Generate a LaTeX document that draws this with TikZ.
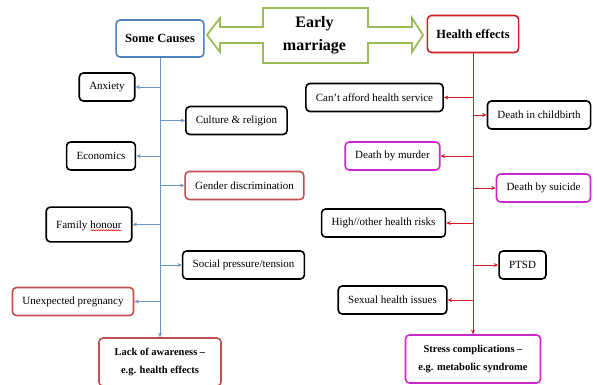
\documentclass[tikz,border=0pt]{standalone}
\usepackage{fontspec}
\setmainfont{Liberation Serif}
\usetikzlibrary{arrows.meta,decorations.pathmorphing}
\definecolor{causeblue}{RGB}{79,129,189}
\definecolor{linkblue}{RGB}{110,150,200}
\definecolor{effectred}{RGB}{210,30,40}
\definecolor{brickred}{RGB}{192,80,77}
\definecolor{deathpink}{RGB}{204,40,204}
\definecolor{marriagegreen}{RGB}{155,187,89}
\newcommand{\redwave}[1]{\tikz[baseline=(w.base)]{\node[draw=none, inner sep=0pt, outer sep=0pt] (w) {#1};
  \draw[red, line width=0.5pt, sharp corners, decorate, decoration={snake, amplitude=0.6pt, segment length=2.5pt}]
  ([yshift=-2pt]w.base west) -- ([yshift=-2pt]w.base east);}}
\tikzset{
  item/.style={draw, rounded corners=4pt, line width=1.6pt, minimum height=28pt,
    inner xsep=10pt, font=\fontsize{11}{13}\selectfont},
  head/.style={item, inner xsep=9pt, minimum height=37pt,
    font=\fontsize{12.5}{15}\selectfont\bfseries},
  foot/.style={item, align=center, minimum height=48pt,
    font=\fontsize{10.5}{18}\selectfont\bfseries},
}

\begin{document}
\begin{tikzpicture}[x=1pt, y=-1pt, >={Stealth[length=4.5pt,width=4pt]}]
    \useasboundingbox (0,0) rectangle (599,385);
    \draw[marriagegreen, line width=1.8pt]
    (263,8) -- (368,8) -- (368,27) -- (412,27) -- (412,18) -- (423,35)
    -- (412,52) -- (412,43) -- (368,43) -- (368,63) -- (263,63) -- (263,43)
    -- (220,43) -- (220,52) -- (207,35) -- (220,18) -- (220,27) -- (263,27) -- cycle;
    \node[align=center, font=\fontsize{16}{23}\selectfont\bfseries] (marriage) at (314.5,35) {Early\\marriage};

    \node[head, draw=causeblue]  (causes)    at (160,38.5)   {Some Causes};
    \node[item]                  (anxiety)   at (107,87)     {Anxiety};
    \node[item]                  (culture)   at (236.5,120.5) {Culture \& religion};
    \node[item]                  (economics) at (101,156)    {Economics};
    \node[item, draw=brickred]   (gender)    at (244.5,185.5) {Gender discrimination};
    \node[item]                  (family)    at (89,224.5)   {Family \redwave{honour}};
    \node[item]                  (social)    at (243.5,265)  {Social pressure/tension};
    \node[item, draw=brickred]   (pregnancy) at (73,301.5)   {Unexpected pregnancy};
    \node[foot, draw=brickred, minimum width=122pt] (lack) at (160,362) {Lack of awareness --\\e.g. health effects};

    \node[head, draw=effectred]  (effects)    at (473,34)     {Health effects};
    \node[item]                  (afford)     at (374.5,97.5) {Can't afford health service};
    \node[item]                  (childbirth) at (539,115)    {Death in childbirth};
    \node[item, draw=deathpink]  (murder)     at (392.5,156)  {Death by murder};
    \node[item, draw=deathpink]  (suicide)    at (543.5,188)  {Death by suicide};
    \node[item]                  (risks)      at (383.5,223)  {High//other health risks};
    \node[item]                  (ptsd)       at (522.5,265)  {PTSD};
    \node[item]                  (sexual)     at (392.5,300)  {Sexual health issues};
    \node[foot, draw=deathpink, minimum width=135pt] (stress) at (473,359) {Stress complications --\\e.g. metabolic syndrome};

    \path[->, linkblue, line width=0.8pt]
    (causes) edge (lack)
    (causes.south |- anxiety) edge (anxiety)
    (causes.south |- culture) edge (culture)
    (causes.south |- economics) edge (economics)
    (causes.south |- gender) edge (gender)
    (causes.south |- family) edge (family)
    (causes.south |- social) edge (social)
    (causes.south |- pregnancy) edge (pregnancy);
    \path[->, effectred, line width=0.8pt]
    (effects) edge (stress)
    (effects.south |- afford) edge (afford)
    (effects.south |- childbirth) edge (childbirth)
    (effects.south |- murder) edge (murder)
    (effects.south |- suicide) edge (suicide)
    (effects.south |- risks) edge (risks)
    (effects.south |- ptsd) edge (ptsd)
    (effects.south |- sexual) edge (sexual);
  \end{tikzpicture}
\end{document}
